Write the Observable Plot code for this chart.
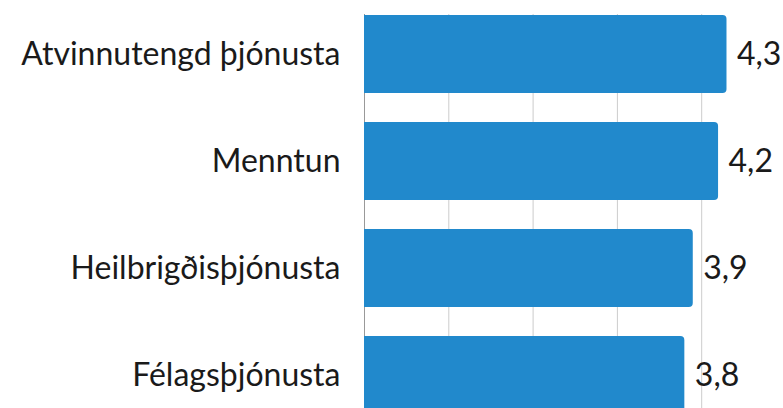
<!DOCTYPE html>
<html>
<head>
<meta charset="utf-8">
<script src="https://cdn.jsdelivr.net/npm/d3@7"></script>
<script src="https://cdn.jsdelivr.net/npm/@observablehq/plot@0.6"></script>
<style>
  html, body { margin: 0; padding: 0; background: #fff; overflow: hidden; }
</style>
</head>
<body>
<div id="chart"></div>
<script>
const categories = ["Atvinnutengd þjónusta", "Menntun", "Heilbrigðisþjónusta", "Félagsþjónusta"];
const values = [4.3, 4.2, 3.9, 3.8];
const gridTicks = [0, 1, 2, 3, 4];

const data = categories.map((c, i) => ({category: c, value: values[i]}));
const fmt = v => String(v).replace(".", ",");
const FONT = "Lato, 'Noto Sans', sans-serif";

const chart = Plot.plot({
  width: 783,
  height: 414,
  marginTop: 14,
  marginBottom: 0,
  marginLeft: 364,
  marginRight: 0,
  style: {fontFamily: FONT, fontSize: "32px", color: "#1a1a1a", background: "#fff"},
  x: {domain: [0, 5], range: [364, 785.5], axis: null},
  y: {domain: categories, paddingInner: 0.273, paddingOuter: 0, label: null},
  marks: [
    Plot.ruleX(gridTicks.slice(1), {stroke: "#cccccc", strokeWidth: 1}),
    Plot.ruleX([0], {stroke: "#999999", strokeWidth: 1}),
    Plot.barX(data, {x: "value", y: "category", fill: "#2189cc", rx2: 4}),
    Plot.text(data, {x: "value", y: "category", text: d => fmt(d.value), textAnchor: "start", dx: 10, fill: "#1a1a1a", fontSize: 32}),
    Plot.axisY({tickSize: 0, tickPadding: 24, fontSize: 32, label: null})
  ]
});
document.getElementById("chart").appendChild(chart);
</script>
</body>
</html>
